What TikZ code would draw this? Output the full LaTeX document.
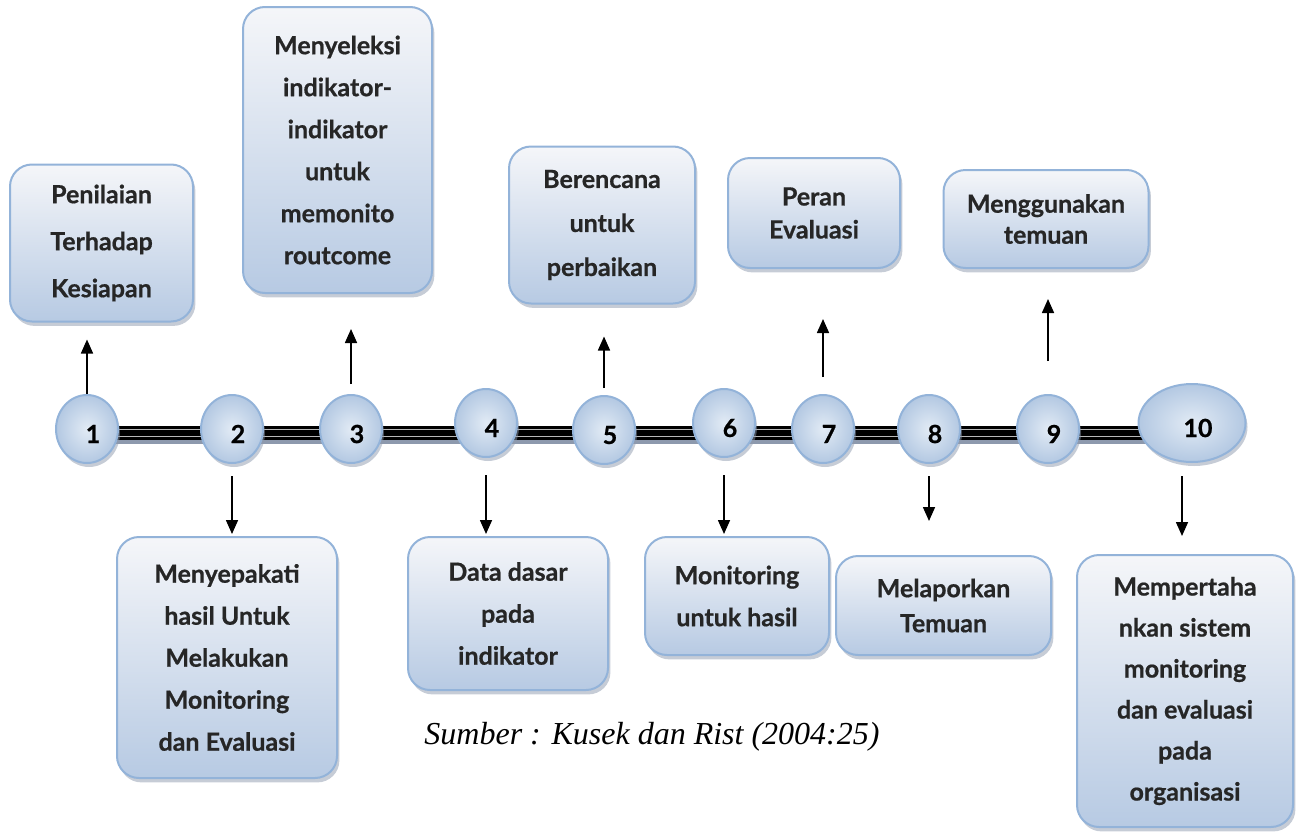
\documentclass[tikz,border=0pt]{standalone}
\usepackage{fontspec}
\newfontfamily\cardfont{Lato}[BoldFeatures={FakeBold=0.7}]
\newfontfamily\srcfont{Liberation Serif}
\usepackage{tikz}
\usetikzlibrary{shapes.geometric, arrows.meta, shadows, backgrounds, calc}
\definecolor{cardEdge}{HTML}{93B3D9}
\definecolor{cardTop}{HTML}{F5F6F9}
\definecolor{cardBottom}{HTML}{B7CAE3}
\definecolor{ballIn}{HTML}{E2EBF5}
\definecolor{ballOut}{HTML}{B3C8E2}
\definecolor{shadowGray}{HTML}{8D99AD}

\begin{document}
\begin{tikzpicture}[x=0.5pt, y=-0.5pt,
  card/.style={draw=cardEdge, line width=1pt, rounded corners=11pt,
    top color=cardTop, bottom color=cardBottom,
    drop shadow={shadow xshift=1.2pt, shadow yshift=-2.2pt, fill=shadowGray},
    align=center, inner sep=0pt, text=black!85,
    font=\cardfont\bfseries\fontsize{12.5}{#1}\selectfont},
  card/.default=21,
  ball/.style={ellipse, draw=cardEdge, line width=1pt,
    inner color=ballIn, outer color=ballOut,
    drop shadow={shadow xshift=1pt, shadow yshift=-2pt, fill=shadowGray},
    minimum width=31pt, minimum height=34pt, inner sep=0pt,
    label={[xshift=3pt, yshift=-2.5pt, text=black,
      font=\cardfont\bfseries\fontsize{12.5}{12.5}\selectfont]center:#1}},
  pointer/.style={-{Triangle[length=7pt, width=6pt]}, line width=0.8pt},
  rail/.style={line width=7pt, black},
  railShade/.style={line width=6pt, shadowGray},
  railStripe/.style={line width=0.7pt, gray!55},
  source/.style={font=\srcfont\itshape\fontsize{16}{16}\selectfont},
]
  \useasboundingbox (0,0) rectangle (1299,835);

% numbered stations
  \node[ball=1] (c1) at (87,429) {};
  \node[ball=2] (c2) at (232,429) {};
  \node[ball=3] (c3) at (351,429) {};
  \node[ball=4] (c4) at (486,423) {};
  \node[ball=5] (c5) at (604,430) {};
  \node[ball=6] (c6) at (724,423) {};
  \node[ball=7] (c7) at (823,429) {};
  \node[ball=8] (c8) at (929,429) {};
  \node[ball=9] (c9) at (1048,429) {};
  \node[ball=10, minimum width=53.5pt, minimum height=39pt] (c10) at (1192,423) {};

% the rail behind the stations
  \begin{scope}[on background layer]
    \draw[railShade] ($(c1.center)+(0,9)$) -- ($(c10.center)+(0,15)$);
    \draw[rail] ($(c1.center)+(0,4)$) -- ($(c10.center)+(0,10)$);
    \draw[railStripe] ($(c1.center)+(0,0.5)$) -- ($(c10.center)+(0,6.5)$);
    \draw[railStripe] ($(c1.center)+(0,7.5)$) -- ($(c10.center)+(0,13.5)$);
  \end{scope}

% upper cards
  \node[card=23.5, minimum width=91.5pt, minimum height=78.5pt] (b1) at (101.5,243) {Penilaian\\Terhadap\\Kesiapan};
  \node[card, minimum width=94.5pt, minimum height=143pt] (b3) at (337.5,150) {Menyeleksi\\indikator-\\indikator\\untuk\\memonito\\routcome};
  \node[card=22, minimum width=93pt, minimum height=78.5pt] (b5) at (602,225) {Berencana\\untuk\\perbaikan};
  \node[card=16.5, minimum width=86pt, minimum height=55pt] (b7) at (814,213) {Peran\\Evaluasi};
  \node[card=15.5, minimum width=102.5pt, minimum height=49pt] (b9) at (1046,219) {Menggunakan\\temuan};

% lower cards
  \node[card, minimum width=110pt, minimum height=120.5pt] (b2) at (227,657.5) {Menyepakati\\hasil Untuk\\Melakukan\\Monitoring\\dan Evaluasi};
  \node[card, minimum width=100pt, minimum height=76.5pt] (b4) at (508,613.5) {Data dasar\\pada\\indikator};
  \node[card, minimum width=92pt, minimum height=59pt] (b6) at (737,596) {Monitoring\\untuk hasil};
  \node[card=17.5, minimum width=107.5pt, minimum height=49.5pt] (b8) at (943.5,605.5) {Melaporkan\\Temuan};
  \node[card=20.5, minimum width=108pt, minimum height=136pt] (b10) at (1185,691) {Mempertaha\\nkan sistem\\monitoring\\dan evaluasi\\pada\\organisasi};

% arrows up
  \draw[pointer, shorten >=8.5pt] (c1.north) -- (c1.north |- b1.south);
  \draw[pointer, shorten <=5pt, shorten >=17.5pt] (c3.north) -- (c3.north |- b3.south);
  \draw[pointer, shorten <=3.5pt, shorten >=16pt] (c5.north) -- (c5.north |- b5.south);
  \draw[pointer, shorten <=8.5pt, shorten >=25pt] (c7.north) -- (c7.north |- b7.south);
  \draw[pointer, shorten <=16.5pt, shorten >=15pt] (c9.north) -- (c9.north |- b9.south);

% arrows down
  \draw[pointer, shorten <=6pt, shorten >=1pt] (c2.south) -- (c2.south |- b2.north);
  \draw[pointer, shorten <=8.5pt, shorten >=1pt] (c4.south) -- (c4.south |- b4.north);
  \draw[pointer, shorten <=8.5pt, shorten >=1pt] (c6.south) -- (c6.south |- b6.north);
  \draw[pointer, shorten <=6pt, shorten >=17pt] (c8.south) -- (c8.south |- b8.north);
  \draw[pointer, shorten <=6.5pt, shorten >=9pt] ([xshift=-5pt]c10.south) -- ([xshift=-5pt]c10.south |- b10.north);

% source line
  \node[source] (src) at (652,737) {Sumber : Kusek dan Rist (2004:25)};
\end{tikzpicture}
\end{document}
